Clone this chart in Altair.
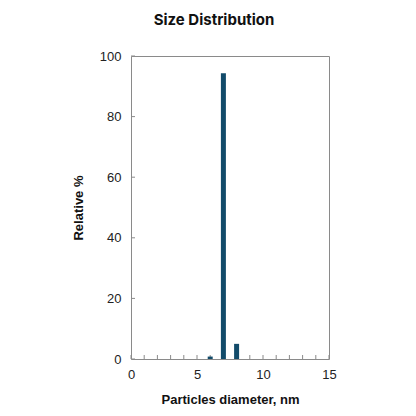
import altair as alt
import pandas as pd

diameters = [6, 7, 8]
relative = [0.8, 94.3, 5.0]
x_ticks = list(range(0, 16))
y_ticks = [0, 20, 40, 60, 80, 100]

df = pd.DataFrame({"d": diameters, "r": relative})
xt = pd.DataFrame({"t": x_ticks})
yt = pd.DataFrame({"t": y_ticks})

W, H = 198, 303
FONT = "Liberation Sans"
GRAY = "#8a8a8a"

xscale = alt.Scale(domain=[0, 15], nice=False, zero=True, padding=0)
yscale = alt.Scale(domain=[0, 100], nice=False, padding=0)

bars = alt.Chart(df).mark_bar(size=5, color="#124b6a").encode(
    x=alt.X("d:Q", scale=xscale,
            axis=alt.Axis(title="Particles diameter, nm", values=[0, 5, 10, 15],
                          ticks=False, domain=False, grid=False, labelPadding=9,
                          labelFlush=False,
                          labelFontSize=13, labelColor="#222", labelFont=FONT,
                          titleFont=FONT, titleFontSize=13, titleFontWeight="bold",
                          titleColor="#111", titlePadding=12)),
    y=alt.Y("r:Q", scale=yscale,
            axis=alt.Axis(title="Relative %", values=y_ticks, ticks=False,
                          domain=False, grid=False, labelPadding=10,
                          labelFlush=False,
                          labelFontSize=13, labelColor="#222", labelFont=FONT,
                          titleFont=FONT, titleFontSize=13, titleFontWeight="bold",
                          titleColor="#111", titlePadding=14)),
)

xticks = alt.Chart(xt).mark_rule(color=GRAY, strokeWidth=1).encode(
    x=alt.X("t:Q", scale=xscale),
    y=alt.value(H),
    y2=alt.value(H - 4),
)

yticks = alt.Chart(yt).mark_rule(color=GRAY, strokeWidth=1).encode(
    y=alt.Y("t:Q", scale=yscale),
    x=alt.value(0),
    x2=alt.value(4),
)

chart = alt.layer(xticks, yticks, bars).properties(
    width=W, height=H,
    title=alt.Title("Size Distribution", fontSize=15, font="Inter",
                    fontWeight="bold", color="#111", anchor="middle",
                    dx=-16, offset=22),
    autosize="none",
    padding={"left": 123, "top": 48, "right": 79, "bottom": 49},
).configure_view(stroke=GRAY, strokeWidth=1)

chart.save("out.html", embed_options={"renderer": "svg", "actions": False})
